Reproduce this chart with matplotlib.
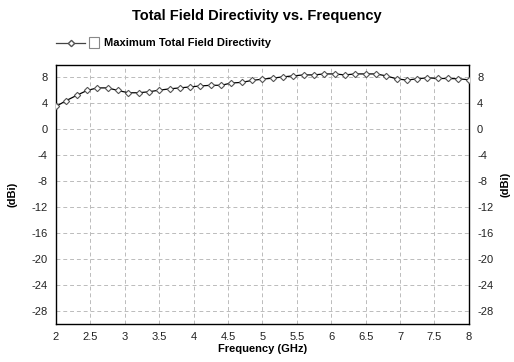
import numpy as np
import matplotlib
matplotlib.use("Agg")
import matplotlib.pyplot as plt
from matplotlib.lines import Line2D
from matplotlib.patches import Rectangle

plt.rcParams['font.family'] = ['Liberation Sans', 'DejaVu Sans']
plt.rcParams['axes.unicode_minus'] = False

# frequency samples (GHz) and directivity (dBi)
freq = [2.0, 2.15, 2.3, 2.45, 2.6, 2.75, 2.9, 3.05, 3.2, 3.35, 3.5, 3.65, 3.8, 3.95,
        4.1, 4.25, 4.4, 4.55, 4.7, 4.85, 5.0, 5.15, 5.3, 5.45, 5.6, 5.75, 5.9, 6.05,
        6.2, 6.35, 6.5, 6.65, 6.8, 6.95, 7.1, 7.25, 7.4, 7.55, 7.7, 7.85, 8.0]
directivity = [3.5, 4.4, 5.2, 5.95, 6.35, 6.35, 5.95, 5.6, 5.6, 5.75, 6.0, 6.2, 6.35, 6.5,
               6.65, 6.75, 6.75, 7.1, 7.2, 7.5, 7.7, 7.85, 8.05, 8.2, 8.35, 8.35, 8.5, 8.5,
               8.35, 8.5, 8.5, 8.5, 8.2, 7.75, 7.55, 7.75, 7.9, 7.8, 7.8, 7.75, 7.6]

x_ticks = [2, 2.5, 3, 3.5, 4, 4.5, 5, 5.5, 6, 6.5, 7, 7.5, 8]
x_tick_labels = ['2', '2.5', '3', '3.5', '4', '4.5', '5', '5.5', '6', '6.5', '7', '7.5', '8']
y_ticks = [8, 4, 0, -4, -8, -12, -16, -20, -24, -28]

fig = plt.figure(figsize=(5.14, 3.62), dpi=100)
ax = fig.add_axes([0.109, 0.105, 0.803, 0.715])

ax.plot(freq, directivity, color='black', linewidth=0.9, marker='D', markersize=3.2,
        markerfacecolor='white', markeredgecolor='#555555', markeredgewidth=0.8, zorder=3)

ax.set_xlim(2, 8)
ax.set_ylim(-30, 9.85)
ax.set_xticks(x_ticks)
ax.set_xticklabels(x_tick_labels)
ax.set_yticks(y_ticks)
ax.grid(True, color='#bbbbbb', linestyle=(0, (4, 3)), linewidth=0.7)
ax.tick_params(axis='both', length=0, labelsize=8, pad=6, colors='#222222')
ax.tick_params(axis='y', labelright=True, right=False)
for sp in ax.spines.values():
    sp.set_color('black')
    sp.set_linewidth(1.0)

ax.set_xlabel('Frequency (GHz)', fontsize=8, fontweight='bold', labelpad=1)
ax.set_ylabel('(dBi)', fontsize=8, fontweight='bold', labelpad=10)
fig.text(0.984, 0.49, '(dBi)', rotation=90, fontsize=8, fontweight='bold',
         ha='center', va='center')

fig.text(0.5, 0.955, 'Total Field Directivity vs. Frequency', fontsize=10.5,
         fontweight='bold', ha='center', va='center')

# legend drawn by hand at the top left
fig.add_artist(Line2D([56 / 514, 70.5 / 514, 85 / 514], [1 - 43 / 362] * 3, color='#444444',
                      linewidth=0.9, marker='D', markersize=3.2, markevery=[1],
                      markerfacecolor='white', markeredgecolor='#555555',
                      transform=fig.transFigure))
fig.add_artist(Rectangle((89 / 514, 1 - 48 / 362), 10 / 514, 11 / 362, facecolor='white',
                         edgecolor='#888888', linewidth=0.8, transform=fig.transFigure))
fig.text(104 / 514, 1 - 43 / 362, 'Maximum Total Field Directivity', fontsize=8,
         fontweight='bold', ha='left', va='center')

fig.savefig('out.png', dpi=100)
